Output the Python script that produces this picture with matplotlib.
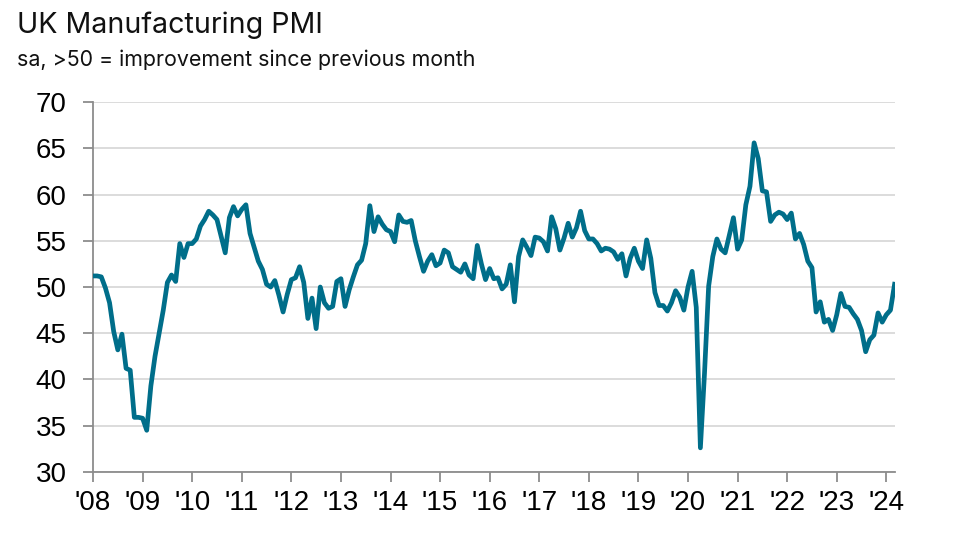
import numpy as np
import matplotlib
matplotlib.use("Agg")
import matplotlib.pyplot as plt

# monthly readings, Jan 2008 .. Mar 2024
pmi_2008 = [51.2, 51.2, 51.1, 49.9, 48.3, 45.2, 43.2, 44.9, 41.2, 41.0, 35.9, 35.9]
pmi_2009 = [35.8, 34.5, 39.3, 42.5, 45.0, 47.5, 50.5, 51.3, 50.6, 54.7, 53.2, 54.7]
pmi_2010 = [54.7, 55.2, 56.6, 57.3, 58.2, 57.8, 57.3, 55.5, 53.7, 57.5, 58.7, 57.7]
pmi_2011 = [58.4, 58.9, 55.8, 54.3, 52.8, 51.9, 50.3, 50.0, 50.7, 49.1, 47.3, 49.2]
pmi_2012 = [50.8, 51.0, 52.2, 50.5, 46.6, 48.8, 45.5, 50.0, 48.3, 47.7, 47.9, 50.6]
pmi_2013 = [50.9, 47.9, 49.7, 51.1, 52.4, 52.9, 54.7, 58.8, 56.0, 57.6, 56.8, 56.2]
pmi_2014 = [56.0, 54.9, 57.8, 57.1, 57.0, 57.2, 55.0, 53.3, 51.7, 52.8, 53.5, 52.3]
pmi_2015 = [52.6, 54.0, 53.7, 52.2, 51.9, 51.6, 52.5, 51.3, 50.9, 54.5, 52.5, 50.8]
pmi_2016 = [52.0, 50.9, 51.0, 49.8, 50.3, 52.4, 48.4, 53.3, 55.1, 54.3, 53.4, 55.4]
pmi_2017 = [55.3, 54.9, 53.9, 57.6, 56.3, 54.0, 55.3, 56.9, 55.4, 56.4, 58.2, 56.1]
pmi_2018 = [55.2, 55.2, 54.7, 53.9, 54.2, 54.1, 53.8, 53.0, 53.6, 51.2, 53.1, 54.2]
pmi_2019 = [52.8, 52.0, 55.1, 53.1, 49.4, 48.0, 48.0, 47.4, 48.3, 49.6, 48.9, 47.5]
pmi_2020 = [50.0, 51.7, 47.8, 32.6, 40.7, 50.1, 53.3, 55.2, 54.1, 53.7, 55.6, 57.5]
pmi_2021 = [54.1, 55.1, 58.9, 60.9, 65.6, 63.9, 60.4, 60.3, 57.1, 57.8, 58.1, 57.9]
pmi_2022 = [57.3, 58.0, 55.2, 55.8, 54.6, 52.8, 52.1, 47.3, 48.4, 46.2, 46.5, 45.3]
pmi_2023 = [47.0, 49.3, 47.9, 47.8, 47.1, 46.5, 45.3, 43.0, 44.3, 44.8, 47.2, 46.2]
pmi_2024 = [47.0, 47.5, 50.3]

pmi = (pmi_2008 + pmi_2009 + pmi_2010 + pmi_2011 + pmi_2012 + pmi_2013 + pmi_2014
       + pmi_2015 + pmi_2016 + pmi_2017 + pmi_2018 + pmi_2019 + pmi_2020 + pmi_2021
       + pmi_2022 + pmi_2023 + pmi_2024)
months = 2008 + np.arange(len(pmi)) / 12.0

years = list(range(2008, 2025))
year_labels = ["'%02d" % (y % 100) for y in years]
y_ticks = [30, 35, 40, 45, 50, 55, 60, 65, 70]

plt.rcParams['font.family'] = ['Liberation Sans', 'DejaVu Sans']

fig = plt.figure(figsize=(9.59, 5.35), dpi=100)
ax = fig.add_axes([0.097, 0.118, 0.836, 0.691])

ax.plot(months, pmi, color='#006E8A', lw=3.4, solid_joinstyle='round', zorder=3)

ax.set_xlim(2008, 2024.17)
ax.set_ylim(30, 70)
ax.set_yticks(y_ticks)
ax.set_xticks(years)
ax.set_xticklabels(year_labels)
ax.grid(axis='y', color='#d9d9d9', lw=1.3)
ax.set_axisbelow(True)

for s in ['top', 'right']:
    ax.spines[s].set_visible(False)
for s in ['left', 'bottom']:
    ax.spines[s].set_color('#8c8c8c')
    ax.spines[s].set_linewidth(1.3)
ax.tick_params(axis='both', colors='#8c8c8c', length=7, width=1.3,
               labelsize=20, labelcolor='black')
ax.tick_params(axis='y', pad=12)
ax.tick_params(axis='x', pad=6)

fig.text(0.018, 0.938, "UK Manufacturing PMI", fontsize=20.6, family='Inter', color='#111111')
fig.text(0.018, 0.876, "sa, >50 = improvement since previous month", fontsize=15.4,
         family='Inter', color='#111111')

fig.savefig("out.png", dpi=100)
